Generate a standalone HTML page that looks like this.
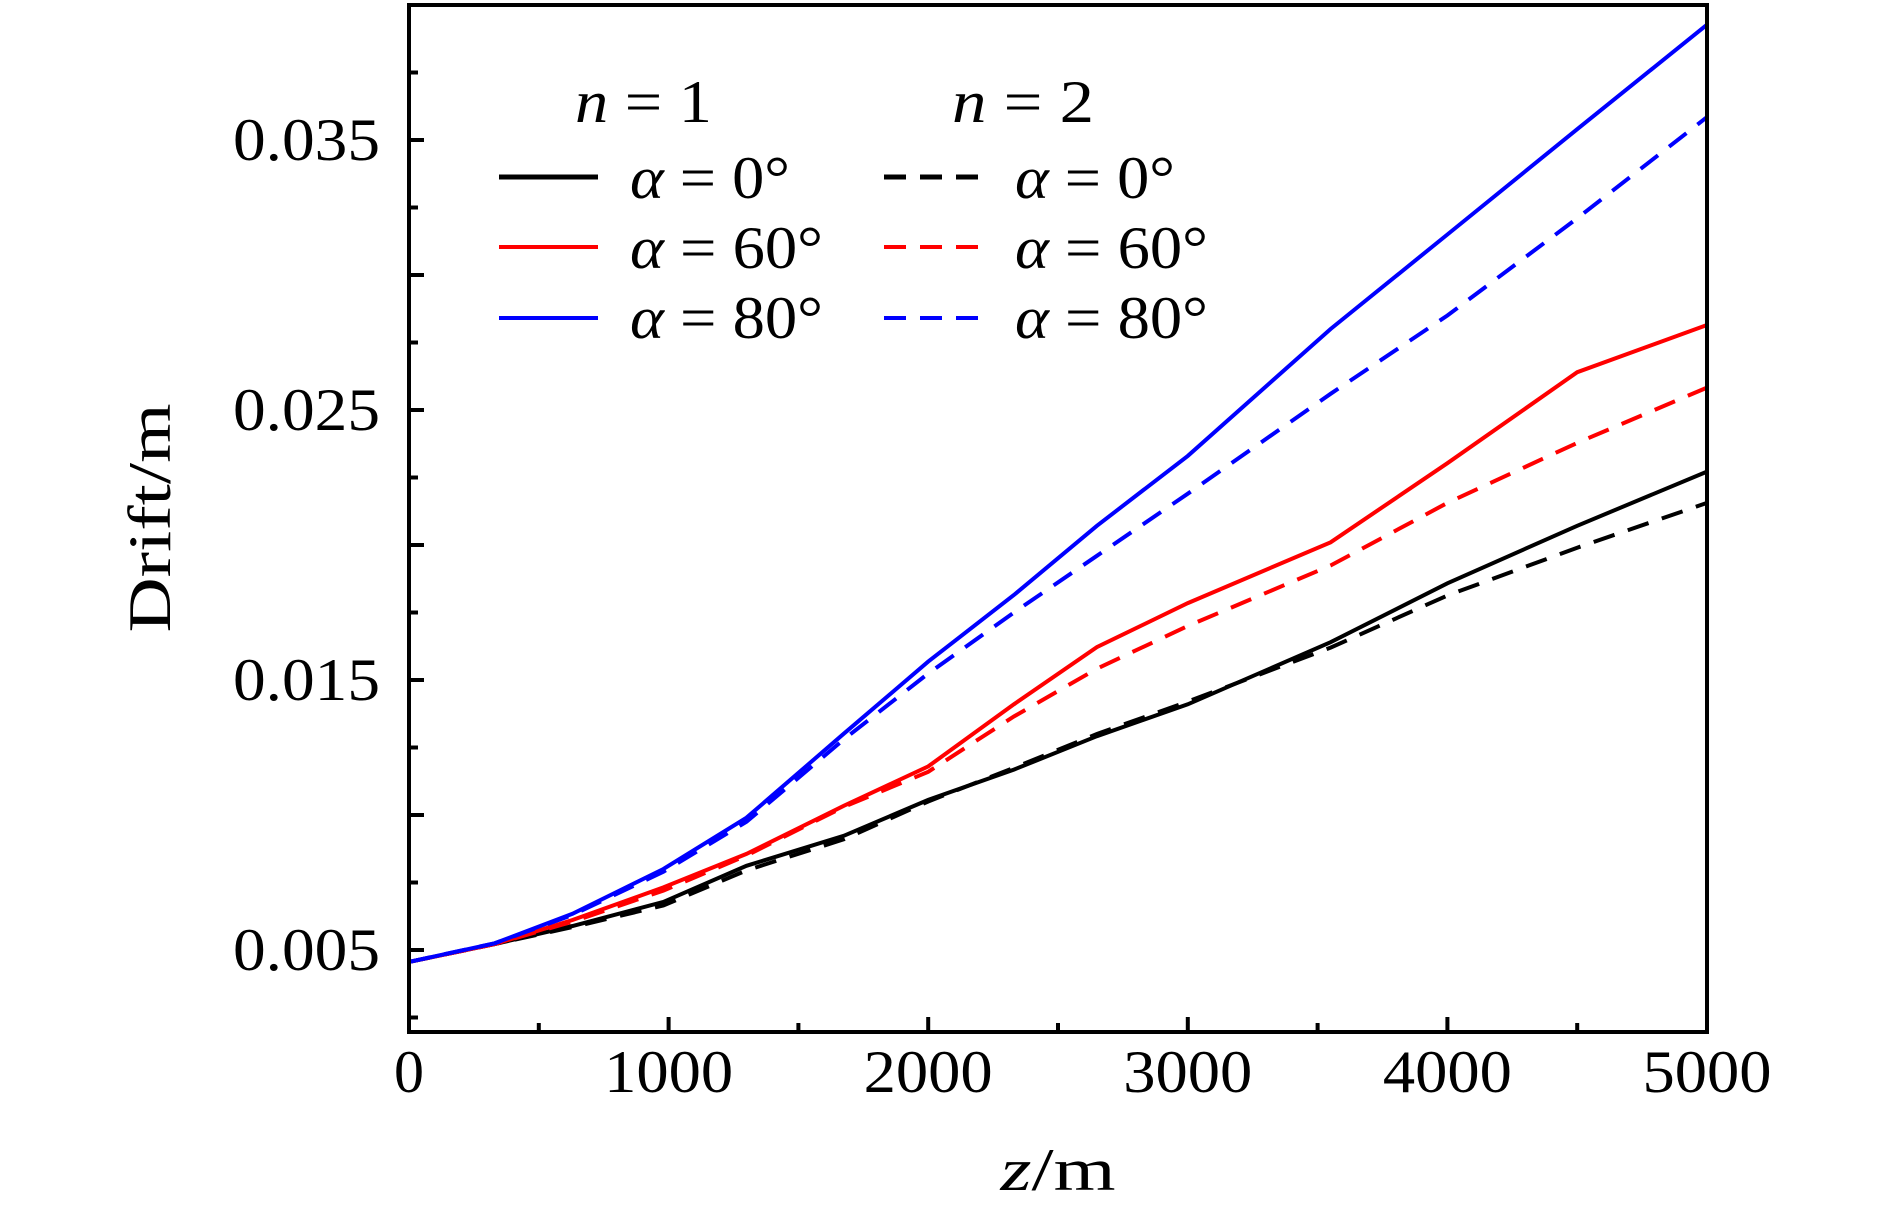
<!DOCTYPE html>
<html><head><meta charset="utf-8"><style>
html,body{margin:0;padding:0;background:#fff;}
svg{display:block;}
text{font-family:"Liberation Serif","DejaVu Serif",serif;fill:#000;}
</style></head><body>
<svg id="chart" width="1890" height="1205" viewBox="0 0 1890 1205" xmlns="http://www.w3.org/2000/svg">
<g id="series"></g>
<rect x="409" y="5" width="1298" height="1027" fill="none" stroke="#000" stroke-width="4"/>
<g id="ticks"></g>
<text x="0" y="0" font-size="60" text-anchor="middle" textLength="229" lengthAdjust="spacingAndGlyphs" transform="translate(170,518) rotate(-90)">Drift/m</text>
<text x="1058" y="1190" font-size="60" text-anchor="middle" textLength="115" lengthAdjust="spacingAndGlyphs"><tspan font-style="italic">z</tspan>/m</text>
<g>
<text x="575" y="122" font-size="60" textLength="137" lengthAdjust="spacingAndGlyphs"><tspan font-style="italic">n</tspan> = 1</text>
<text x="952" y="122" font-size="60" textLength="142" lengthAdjust="spacingAndGlyphs"><tspan font-style="italic">n</tspan> = 2</text>
<line x1="499" y1="177" x2="598" y2="177" stroke="#000" stroke-width="5"/>
<line x1="499" y1="247" x2="598" y2="247" stroke="#f00" stroke-width="4"/>
<line x1="499" y1="318" x2="598" y2="318" stroke="#00f" stroke-width="4"/>
<text x="630" y="198" font-size="60" textLength="160" lengthAdjust="spacingAndGlyphs"><tspan font-style="italic">α</tspan> = 0°</text>
<text x="630" y="268" font-size="60" textLength="193" lengthAdjust="spacingAndGlyphs"><tspan font-style="italic">α</tspan> = 60°</text>
<text x="630" y="338" font-size="60" textLength="193" lengthAdjust="spacingAndGlyphs"><tspan font-style="italic">α</tspan> = 80°</text>
<line x1="884" y1="177" x2="980" y2="177" stroke="#000" stroke-width="5" stroke-dasharray="22 14"/>
<line x1="884" y1="247" x2="980" y2="247" stroke="#f00" stroke-width="4" stroke-dasharray="22 14"/>
<line x1="884" y1="318" x2="980" y2="318" stroke="#00f" stroke-width="4" stroke-dasharray="22 14"/>
<text x="1015" y="198" font-size="60" textLength="160" lengthAdjust="spacingAndGlyphs"><tspan font-style="italic">α</tspan> = 0°</text>
<text x="1015" y="268" font-size="60" textLength="193" lengthAdjust="spacingAndGlyphs"><tspan font-style="italic">α</tspan> = 60°</text>
<text x="1015" y="338" font-size="60" textLength="193" lengthAdjust="spacingAndGlyphs"><tspan font-style="italic">α</tspan> = 80°</text>
</g>
</svg>
<script>
const zValues = [0,330,630,980,1300,1675,2000,2330,2650,3000,3550,4000,4500,5000];
const n1a0 = [0.00456,0.00522,0.00589,0.00678,0.00812,0.00923,0.01056,0.01168,0.01292,0.01410,0.01640,0.01858,0.02071,0.02272];
const n2a0 = [0.00456,0.00522,0.00585,0.00665,0.00795,0.00910,0.01050,0.01175,0.01300,0.01420,0.01620,0.01813,0.01990,0.02156];
const n1a60 = [0.00456,0.00522,0.00611,0.00732,0.00856,0.01034,0.01180,0.01410,0.01622,0.01785,0.02010,0.02303,0.02640,0.02815];
const n2a60 = [0.00456,0.00522,0.00605,0.00720,0.00850,0.01030,0.01160,0.01365,0.01542,0.01700,0.01924,0.02156,0.02378,0.02583];
const n1a80 = [0.00456,0.00525,0.00634,0.00800,0.00990,0.01301,0.01568,0.01815,0.02071,0.02330,0.02800,0.03150,0.03540,0.03927];
const n2a80 = [0.00456,0.00525,0.00630,0.00790,0.00975,0.01280,0.01524,0.01750,0.01960,0.02190,0.02560,0.02850,0.03210,0.03585];
const xTickLabels = ["0","1000","2000","3000","4000","5000"];
const yTickLabels = ["0.005","0.015","0.025","0.035"];

const NS = "http://www.w3.org/2000/svg";
function xs(z){ return 409 + z * 0.2596; }
function ys(v){ return 140 + (0.035 - v) * 27000; }

const sg = document.getElementById('series');
const seriesDefs = [
  [n1a0,'#000',null,'series-n1-alpha0'],
  [n2a0,'#000','22 14','series-n2-alpha0'],
  [n1a60,'#f00',null,'series-n1-alpha60'],
  [n2a60,'#f00','22 14','series-n2-alpha60'],
  [n1a80,'#00f',null,'series-n1-alpha80'],
  [n2a80,'#00f','22 14','series-n2-alpha80']
];
seriesDefs.forEach(function(s){
  const p = document.createElementNS(NS,'polyline');
  p.setAttribute('points', zValues.map(function(z,i){ return xs(z).toFixed(1)+','+ys(s[0][i]).toFixed(1); }).join(' '));
  p.setAttribute('fill','none');
  p.setAttribute('stroke',s[1]);
  p.setAttribute('stroke-width','4');
  if (s[2]) p.setAttribute('stroke-dasharray',s[2]);
  
  
  sg.appendChild(p);
});

const tg = document.getElementById('ticks');
function ln(x1,y1,x2,y2){
  const l = document.createElementNS(NS,'line');
  l.setAttribute('x1',x1); l.setAttribute('y1',y1); l.setAttribute('x2',x2); l.setAttribute('y2',y2);
  l.setAttribute('stroke','#000'); l.setAttribute('stroke-width','4');
  tg.appendChild(l);
  return l;
}
for (let z = 0; z <= 5000; z += 500) {
  const t = ln(xs(z),1032,xs(z), z % 1000 === 0 ? 1017 : 1023);
  
  
}
xTickLabels.forEach(function(lbl){
  const tx = document.createElementNS(NS,'text');
  tx.setAttribute('x', xs(parseFloat(lbl)));
  tx.setAttribute('y', 1092);
  tx.setAttribute('font-size','60');
  tx.setAttribute('text-anchor','middle');
  if (lbl.length > 1) {
    tx.setAttribute('textLength','129');
    tx.setAttribute('lengthAdjust','spacingAndGlyphs');
  }
  tx.textContent = lbl;
  
  
  tg.appendChild(tx);
});
for (let k = 1; k <= 15; k++) {
  const v = k * 0.0025;
  const major = (k % 2 === 0);
  const t = ln(409, ys(v), major ? 424 : 418, ys(v));
  
  
}
yTickLabels.forEach(function(lbl){
  const tx = document.createElementNS(NS,'text');
  tx.setAttribute('x', 233);
  tx.setAttribute('y', ys(parseFloat(lbl)) + 20);
  tx.setAttribute('font-size','60');
  tx.setAttribute('textLength','147');
  tx.setAttribute('lengthAdjust','spacingAndGlyphs');
  tx.textContent = lbl;
  
  
  tg.appendChild(tx);
});
</script>
</body></html>
